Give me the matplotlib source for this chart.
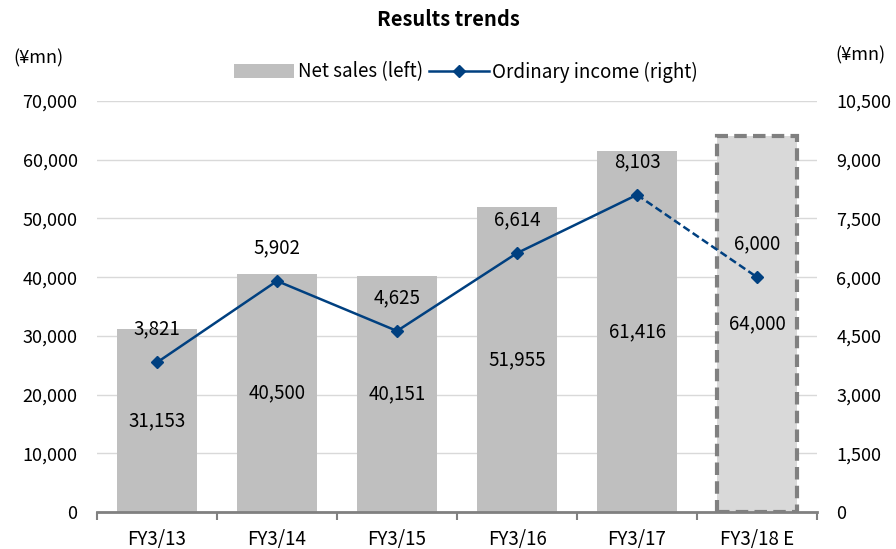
import numpy as np
import matplotlib.pyplot as plt

plt.rcParams['font.family'] = ['Noto Sans CJK JP', 'DejaVu Sans']
plt.rcParams['font.size'] = 13

# data
years = ['FY3/13', 'FY3/14', 'FY3/15', 'FY3/16', 'FY3/17', 'FY3/18 E']
net_sales = [31153, 40500, 40151, 51955, 61416, 64000]
ordinary_income = [3821, 5902, 4625, 6614, 8103, 6000]

x = np.arange(len(years))
bar_color = '#BFBFBF'
fc_color = '#D9D9D9'
line_color = '#004080'

fig = plt.figure(figsize=(8.96, 5.49), dpi=100)
ax = fig.add_axes([97/896, 1 - 512/549, 720/896, 411/549])
ax2 = ax.twinx()

# bars (forecast year drawn differently)
ax.bar(x[:-1], net_sales[:-1], width=0.67, color=bar_color, zorder=2, label='Net sales (left)')
ax.bar(x[-1], net_sales[-1], width=0.67, color=fc_color, edgecolor='#808080',
       linewidth=3, linestyle=(0, (3, 1.5)), zorder=2)
for xi, v in zip(x, net_sales):
    ax.text(xi, v / 2, f'{v:,}', ha='center', va='center', fontsize=13.5, zorder=3)

# line: actuals solid, forecast segment dashed
ax2.plot(x[:-1], ordinary_income[:-1], color=line_color, lw=1.8, marker='D', ms=6.5,
         label='Ordinary income (right)', zorder=4)
ax2.plot(x[-2:], ordinary_income[-2:], color=line_color, lw=1.8, ls=(0, (3, 1.5)), zorder=4)
ax2.plot(x[-1], ordinary_income[-1], color=line_color, marker='D', ms=6.5, zorder=4)
for xi, v in zip(x, ordinary_income):
    ax2.annotate(f'{v:,}', (xi, v), xytext=(0, 24), textcoords='offset points',
                 ha='center', va='center', fontsize=13.5)

ax.set_xlim(-0.5, len(years) - 0.5)
ax.set_ylim(0, 70000)
ax2.set_ylim(0, 10500)
ax.set_yticks(np.arange(0, 70001, 10000))
ax2.set_yticks(np.arange(0, 10501, 1500))
ax.yaxis.set_major_formatter(plt.FuncFormatter(lambda v, p: f'{int(v):,}'))
ax2.yaxis.set_major_formatter(plt.FuncFormatter(lambda v, p: f'{int(v):,}'))

ax.set_xticks(x)
ax.set_xticklabels(years, fontsize=13.5)
ax.set_xticks(np.arange(-0.5, len(years), 1), minor=True)
ax.tick_params(axis='x', which='major', length=0, pad=12)
ax.tick_params(axis='x', which='minor', length=6, width=1.5, color='#808080', direction='out')
ax.tick_params(axis='y', length=0, pad=14)
ax2.tick_params(axis='y', length=0, pad=14)

ax.grid(axis='y', color='#D9D9D9', lw=1, zorder=0)
ax.set_axisbelow(True)
for a in (ax, ax2):
    for s in ['top', 'left', 'right']:
        a.spines[s].set_visible(False)
    a.spines['bottom'].set_color('#808080')
    a.spines['bottom'].set_linewidth(2)
ax2.spines['bottom'].set_visible(False)

fig.text(0.5, 1 - 20/549, 'Results trends', ha='center', va='center', fontsize=14.5, fontweight='bold')
fig.text(38/896, 1 - 58/549, '(¥mn)', ha='center', va='center', fontsize=13)
fig.text(860/896, 1 - 55/549, '(¥mn)', ha='center', va='center', fontsize=13)

h1, l1 = ax.get_legend_handles_labels()
h2, l2 = ax2.get_legend_handles_labels()
fig.legend(h1 + h2, l1 + l2, loc='center', bbox_to_anchor=(466/896, 1 - 72/549), ncol=2,
           frameon=False, fontsize=13.5, handlelength=3.2, columnspacing=0.3, handletextpad=0.2)

fig.savefig('out.png', dpi=100)
